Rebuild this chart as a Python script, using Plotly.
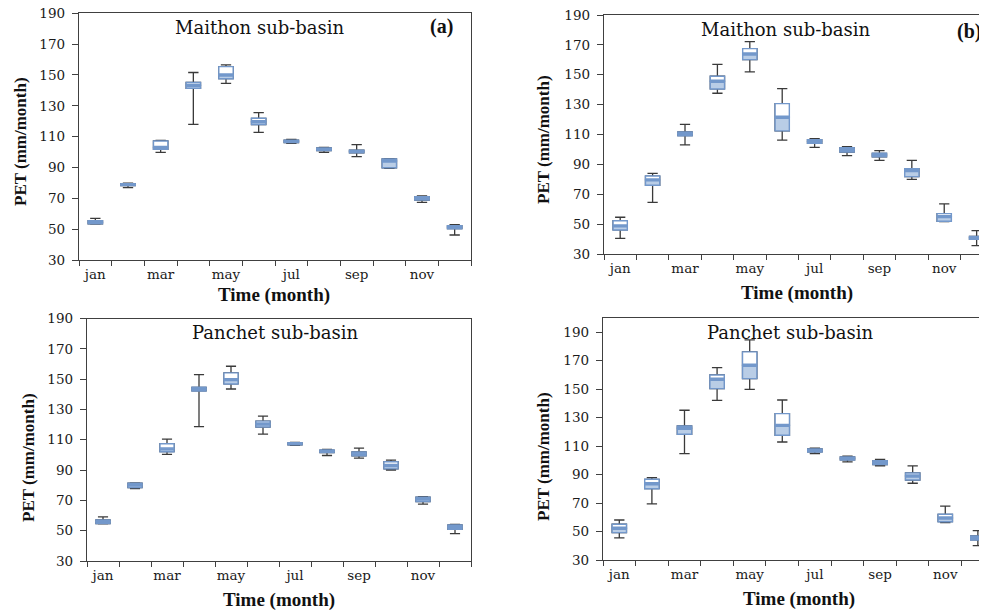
import plotly.graph_objects as go

months = ["jan", "feb", "mar", "apr", "may", "jun", "jul", "aug", "sep", "oct", "nov", "dec"]
month_labels = ["jan", "", "mar", "", "may", "", "jul", "", "sep", "", "nov", ""]
y_ticks = [30, 50, 70, 90, 110, 130, 150, 170, 190]

# Panel (a) Maithon, left
a_min = [53.3, 76.9, 99.8, 118.0, 144.6, 112.8, 105.7, 99.8, 97.0, 89.5, 67.4, 46.2]
a_q1 = [53.5, 78.3, 101.8, 141.4, 147.6, 117.8, 106.2, 101.0, 99.5, 89.8, 68.9, 50.3]
a_med = [54.5, 78.9, 103.0, 143.3, 150.0, 119.7, 107.0, 102.0, 100.5, 94.2, 70.0, 51.4]
a_q3 = [55.5, 79.5, 107.2, 145.2, 155.4, 121.9, 107.7, 102.7, 101.2, 95.5, 71.1, 52.3]
a_max = [57.0, 79.8, 107.6, 151.6, 156.5, 125.6, 108.2, 103.0, 104.8, 95.8, 71.5, 52.9]

# Panel (b) Maithon, right
b_min = [40.5, 64.6, 103.0, 137.6, 151.9, 106.3, 101.4, 95.8, 92.7, 80.0, 51.7, 35.6]
b_q1 = [46.1, 76.0, 109.2, 140.5, 160.1, 112.4, 104.1, 98.3, 95.0, 81.8, 51.9, 39.8]
b_med = [48.8, 79.6, 110.6, 145.6, 163.9, 121.5, 105.4, 99.9, 96.3, 85.8, 55.0, 40.9]
b_q3 = [52.3, 82.2, 111.7, 149.0, 167.5, 130.7, 106.6, 101.2, 97.4, 87.1, 57.0, 41.8]
b_max = [54.6, 84.0, 116.8, 157.0, 172.2, 140.7, 107.2, 101.9, 99.2, 92.7, 63.5, 45.6]

# Panel (c) Panchet, left
c_min = [54.5, 77.8, 100.3, 118.6, 143.5, 113.7, 106.3, 99.6, 97.9, 89.9, 67.5, 48.1]
c_q1 = [54.7, 78.5, 102.1, 142.2, 146.8, 118.4, 106.6, 101.6, 99.4, 90.8, 69.2, 50.9]
c_med = [56.0, 80.2, 104.0, 143.5, 149.7, 120.4, 107.3, 102.4, 100.7, 93.0, 70.8, 52.5]
c_q3 = [57.1, 81.4, 107.4, 144.6, 154.1, 122.3, 108.0, 103.2, 102.0, 95.5, 72.1, 53.8]
c_max = [59.1, 81.6, 110.4, 153.0, 158.5, 125.6, 108.2, 103.6, 104.5, 96.6, 72.5, 54.2]

# Panel (d) Panchet, right
d_min = [45.5, 69.4, 104.7, 142.2, 149.9, 112.9, 104.7, 98.9, 96.1, 83.9, 56.2, 40.1]
d_q1 = [49.2, 80.1, 118.3, 150.4, 157.4, 117.6, 105.9, 100.3, 97.0, 86.2, 56.9, 44.1]
d_med = [52.3, 83.6, 122.5, 157.0, 166.8, 124.6, 107.0, 101.4, 98.4, 89.0, 59.5, 45.7]
d_q3 = [55.1, 86.7, 124.2, 160.0, 176.2, 132.8, 108.0, 102.4, 99.8, 91.1, 62.1, 46.9]
d_max = [58.1, 87.9, 135.2, 165.2, 184.6, 142.4, 108.5, 102.9, 100.7, 96.1, 67.9, 50.6]

# page body has an 8px margin: size the figure so it fits the 987x612 window
OFF = 8
W, H = 987 - OFF, 612 - OFF
BOX_W = 0.44
WHISK = "#3a3a3a"
EDGE = "#7398cb"
FILL = "#b9cde6"
AXC = "#404040"


def fx(p):
    return (p - OFF) / W


def fy(p):
    return 1 - (p - OFF) / H


fig = go.Figure()

panels = [
    ("x", "y", a_min, a_q1, a_med, a_q3, a_max),
    ("x2", "y2", b_min, b_q1, b_med, b_q3, b_max),
    ("x3", "y3", c_min, c_q1, c_med, c_q3, c_max),
    ("x4", "y4", d_min, d_q1, d_med, d_q3, d_max),
]

for xa, ya, mn, q1, md, q3, mx in panels:
    # whiskers (dark), box outline later covered
    fig.add_trace(go.Box(
        x=months, q1=q1, median=md, q3=q3, lowerfence=mn, upperfence=mx,
        xaxis=xa, yaxis=ya, width=BOX_W, whiskerwidth=0.72,
        line=dict(color=WHISK, width=1.3), fillcolor="rgba(0,0,0,0)",
        boxpoints=False, showlegend=False, hoverinfo="skip"))
    # upper half: median -> q3, white
    fig.add_trace(go.Box(
        x=months, q1=md, median=md, q3=q3, lowerfence=md, upperfence=q3,
        xaxis=xa, yaxis=ya, width=BOX_W, whiskerwidth=0,
        line=dict(color=EDGE, width=1.4), fillcolor="white",
        boxpoints=False, showlegend=False, hoverinfo="skip"))
    # lower half: q1 -> median, blue
    fig.add_trace(go.Box(
        x=months, q1=q1, median=md, q3=md, lowerfence=q1, upperfence=md,
        xaxis=xa, yaxis=ya, width=BOX_W, whiskerwidth=0,
        line=dict(color=EDGE, width=1.4), fillcolor=FILL,
        boxpoints=False, showlegend=False, hoverinfo="skip"))

tick_font = dict(family="DejaVu Serif", size=13.5, color="#1a1a1a")


def xaxis_cfg(dom, anchor, rng):
    return dict(
        domain=dom, anchor=anchor, type="category", range=rng,
        tickmode="array", tickvals=months, ticktext=month_labels,
        tickson="boundaries", ticks="outside", ticklen=5, tickwidth=1.2,
        tickcolor=AXC, showline=True, linecolor=AXC, linewidth=1.3,
        mirror=True, showgrid=False, zeroline=False, tickfont=tick_font,
        tickangle=0, automargin=False, ticklabelstandoff=2,
        ticklabeloverflow="allow",
        categoryorder="array", categoryarray=months)


def yaxis_cfg(dom, anchor, rng):
    return dict(
        domain=dom, anchor=anchor, range=rng, tickmode="array",
        tickvals=y_ticks, ticks="outside", ticklen=6, tickwidth=1.2,
        tickcolor=AXC, showline=True, linecolor=AXC, linewidth=1.3,
        mirror=True, showgrid=False, zeroline=False, tickfont=tick_font,
        ticklabelstandoff=4, automargin=False, ticklabeloverflow="allow")


fig.update_layout(
    template="none",
    width=W, height=H,
    margin=dict(l=0, r=0, t=0, b=0, pad=0),
    paper_bgcolor="white", plot_bgcolor="white",
    boxmode="overlay",
    xaxis=xaxis_cfg([fx(79), fx(471)], "y", [-0.5, 11.5]),
    yaxis=yaxis_cfg([fy(260), fy(13.3)], "x", [30, 190]),
    xaxis2=xaxis_cfg([fx(604), 1.0], "y2", [-0.5, 11.32]),
    yaxis2=yaxis_cfg([fy(254), fy(15)], "x2", [30, 190]),
    xaxis3=xaxis_cfg([fx(87), fx(471)], "y3", [-0.5, 11.5]),
    yaxis3=yaxis_cfg([fy(561), fy(318.5)], "x3", [30, 190]),
    xaxis4=xaxis_cfg([fx(603), 1.0], "y4", [-0.5, 11.28]),
    yaxis4=yaxis_cfg([fy(560), fy(318)], "x4", [30, 200]),
)

title_font = dict(family="DejaVu Serif", size=18, color="#111111")
lab_font = dict(family="Liberation Serif", size=20, color="#111111")
ytitle_font = dict(family="Liberation Serif", size=17, color="#111111")
xtitle_font = dict(family="Liberation Serif", size=19, color="#111111")

annots = [
    ("Maithon sub-basin", 260, 28, title_font, 0),
    ("Maithon sub-basin", 786, 30, title_font, 0),
    ("Panchet sub-basin", 275, 332, title_font, 0),
    ("Panchet sub-basin", 790, 332, title_font, 0),
    ("<b>(a)</b>", 441, 26, lab_font, 0),
    ("<b>(b)</b>", 969, 31, lab_font, 0),
    ("<b>PET (mm/month)</b>", 20, 142, ytitle_font, -90),
    ("<b>PET (mm/month)</b>", 543, 140, ytitle_font, -90),
    ("<b>PET (mm/month)</b>", 28, 458, ytitle_font, -90),
    ("<b>PET (mm/month)</b>", 543, 457, ytitle_font, -90),
    ("<b>Time (month)</b>", 274, 295, xtitle_font, 0),
    ("<b>Time (month)</b>", 797, 293, xtitle_font, 0),
    ("<b>Time (month)</b>", 279, 600, xtitle_font, 0),
    ("<b>Time (month)</b>", 799, 599, xtitle_font, 0),
]
for text, px, py, font, ang in annots:
    fig.add_annotation(text=text, x=fx(px), y=fy(py), xref="paper", yref="paper",
                       xanchor="center", yanchor="middle", showarrow=False,
                       font=font, textangle=ang)

fig.write_html("out.html")
